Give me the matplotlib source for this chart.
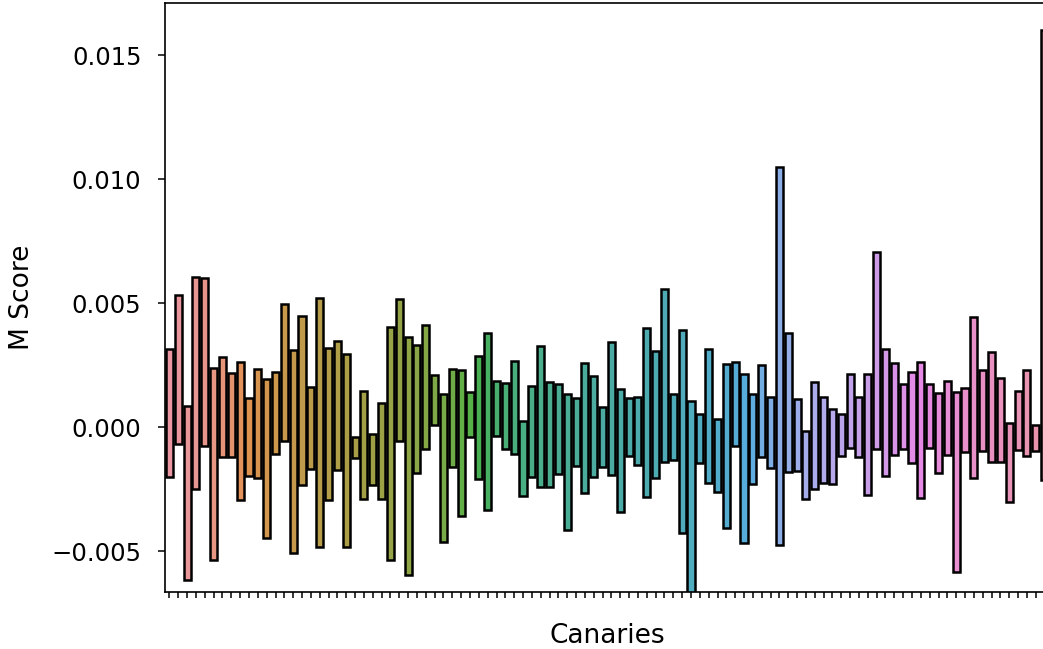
import numpy as np
import matplotlib
matplotlib.use("Agg")
import matplotlib.pyplot as plt
import seaborn as sns

# top and bottom of each floating bar (one per canary)
tops = [0.00315, 0.00532, 0.00085, 0.00604, 0.00600, 0.00237, 0.00284, 0.00219, 0.00263, 0.00118,
        0.00235, 0.00194, 0.00223, 0.00495, 0.00310, 0.00449, 0.00163, 0.00520, 0.00317, 0.00348,
        0.00294, -0.00042, 0.00145, -0.00028, 0.00098, 0.00404, 0.00515, 0.00364, 0.00331, 0.00411,
        0.00208, 0.00133, 0.00234, 0.00230, 0.00142, 0.00286, 0.00378, 0.00187, 0.00179, 0.00266,
        0.00024, 0.00167, 0.00327, 0.00180, 0.00172, 0.00133, 0.00118, 0.00257, 0.00206, 0.00079,
        0.00344, 0.00153, 0.00116, 0.00122, 0.00400, 0.00308, 0.00555, 0.00133, 0.00391, 0.00106,
        0.00052, 0.00315, 0.00032, 0.00254, 0.00262, 0.00215, 0.00132, 0.00249, 0.00120, 0.01048,
        0.00380, 0.00112, -0.00016, 0.00183, 0.00120, 0.00071, 0.00052, 0.00214, 0.00120, 0.00216,
        0.00707, 0.00316, 0.00259, 0.00173, 0.00223, 0.00263, 0.00173, 0.00136, 0.00185, 0.00140,
        0.00156, 0.00445, 0.00230, 0.00304, 0.00199, 0.00017, 0.00145, 0.00230, 0.00007, 0.01602]
bottoms = [-0.00200, -0.00070, -0.00617, -0.00251, -0.00077, -0.00536, -0.00122, -0.00122, -0.00294, -0.00198,
           -0.00206, -0.00449, -0.00110, -0.00055, -0.00509, -0.00234, -0.00171, -0.00485, -0.00294, -0.00173,
           -0.00483, -0.00124, -0.00292, -0.00234, -0.00288, -0.00534, -0.00055, -0.00597, -0.00184, -0.00090,
           0.00008, -0.00462, -0.00160, -0.00359, -0.00039, -0.00211, -0.00335, -0.00035, -0.00089, -0.00110,
           -0.00277, -0.00200, -0.00241, -0.00243, -0.00191, -0.00413, -0.00156, -0.00265, -0.00200, -0.00160,
           -0.00194, -0.00341, -0.00117, -0.00153, -0.00281, -0.00207, -0.00140, -0.00133, -0.00429, -0.00720,
           -0.00144, -0.00224, -0.00261, -0.00406, -0.00077, -0.00466, -0.00230, -0.00122, -0.00167, -0.00476,
           -0.00183, -0.00177, -0.00289, -0.00250, -0.00227, -0.00231, -0.00117, -0.00086, -0.00122, -0.00275,
           -0.00089, -0.00198, -0.00113, -0.00090, -0.00144, -0.00285, -0.00086, -0.00187, -0.00113, -0.00586,
           -0.00102, -0.00204, -0.00097, -0.00142, -0.00142, -0.00304, -0.00093, -0.00116, -0.00097, -0.00214]

n = len(tops)
x = np.arange(n)
heights = np.array(tops) - np.array(bottoms)
# seaborn's categorical palette for many levels: husl at l=.7, desaturated to .75
colors = [sns.desaturate(c, 0.75) for c in sns.husl_palette(n, l=0.7)]

fig = plt.figure(figsize=(10.43, 6.49), dpi=100)
ax = fig.add_axes([165 / 1043, 57 / 649, 884 / 1043, 589 / 649])

ax.bar(x, heights, bottom=bottoms, width=0.8, color=colors,
       edgecolor="black", linewidth=1.8)

ax.set_xlim(-0.5, n - 0.5)
ax.set_ylim(-0.00665, 0.0171)
ax.set_xticks(x)
ax.set_xticklabels([])
ax.set_yticks([-0.005, 0.0, 0.005, 0.010, 0.015])
ax.set_yticklabels(["\u22120.005", "0.000", "0.005", "0.010", "0.015"])
ax.tick_params(axis="y", labelsize=17.5, length=5, width=1.1, pad=12)
ax.tick_params(axis="x", length=4.5, width=1.1)
for s in ax.spines.values():
    s.set_linewidth(1.2)

ax.set_xlabel("Canaries", fontsize=19, labelpad=14)
ax.set_ylabel("M Score", fontsize=19, labelpad=12)

fig.savefig("out.png", dpi=100)
